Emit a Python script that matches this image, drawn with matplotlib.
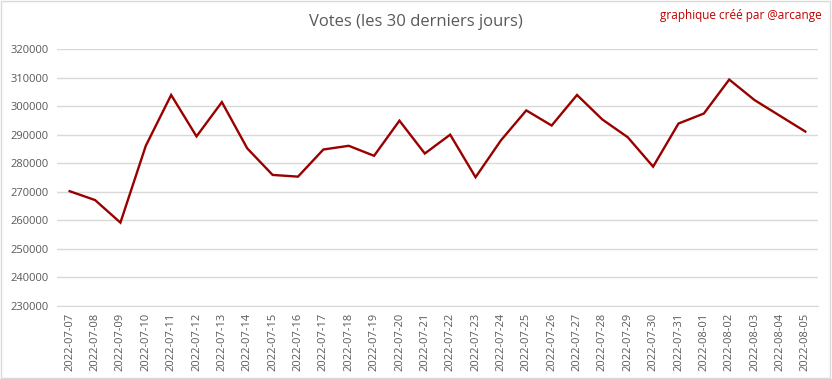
import matplotlib
matplotlib.use("Agg")
import matplotlib.pyplot as plt
from matplotlib.patches import Rectangle

dates = ["2022-07-07", "2022-07-08", "2022-07-09", "2022-07-10", "2022-07-11",
         "2022-07-12", "2022-07-13", "2022-07-14", "2022-07-15", "2022-07-16",
         "2022-07-17", "2022-07-18", "2022-07-19", "2022-07-20", "2022-07-21",
         "2022-07-22", "2022-07-23", "2022-07-24", "2022-07-25", "2022-07-26",
         "2022-07-27", "2022-07-28", "2022-07-29", "2022-07-30", "2022-07-31",
         "2022-08-01", "2022-08-02", "2022-08-03", "2022-08-04", "2022-08-05"]
votes = [270200, 267100, 259200, 286100, 303900,
         289400, 301400, 285200, 275900, 275300,
         284800, 286100, 282600, 294900, 283400,
         290000, 275100, 288000, 298500, 293200,
         303900, 295300, 289100, 278800, 293900,
         297400, 309300, 302100, 296600, 291100]
yticks = [230000, 240000, 250000, 260000, 270000, 280000, 290000, 300000, 310000, 320000]

font = "Open Sans"
grey = "#595959"

fig = plt.figure(figsize=(8.32, 3.79), dpi=100)
ax = fig.add_axes([57/832, 1-306/379, (818-57)/832, (306-49)/379])

x = list(range(len(dates)))
ax.plot(x, votes, color="#990000", linewidth=1.7, solid_joinstyle="miter", zorder=3)

ax.set_xlim(-0.5, len(dates) - 0.5)
ax.set_ylim(yticks[0], yticks[-1])
ax.set_yticks(yticks)
ax.set_yticklabels([str(v) for v in yticks], fontsize=8, color=grey, family=font)
ax.set_xticks(x)
ax.set_xticklabels(dates, rotation=90, fontsize=8, color=grey, family=font)
ax.tick_params(axis="both", length=0)
ax.tick_params(axis="y", pad=6)
ax.tick_params(axis="x", pad=5)
ax.grid(axis="y", color="#d9d9d9", linewidth=1)
ax.set_axisbelow(True)
for s in ["top", "right", "left"]:
    ax.spines[s].set_visible(False)
ax.spines["bottom"].set_color("#d9d9d9")

fig.text(0.5, 1-22/379, "Votes (les 30 derniers jours)", ha="center", va="center",
         fontsize=12, color=grey, family=font)
fig.text(822/832, 1-16/379, "graphique créé par @arcange", ha="right", va="center",
         fontsize=8.5, color="#c00000", family=font)

fig.patches.append(Rectangle((0.001, 0.002), 0.997, 0.995, transform=fig.transFigure,
                             fill=False, edgecolor="#d9d9d9", linewidth=1))

fig.savefig("out.png", dpi=100)
